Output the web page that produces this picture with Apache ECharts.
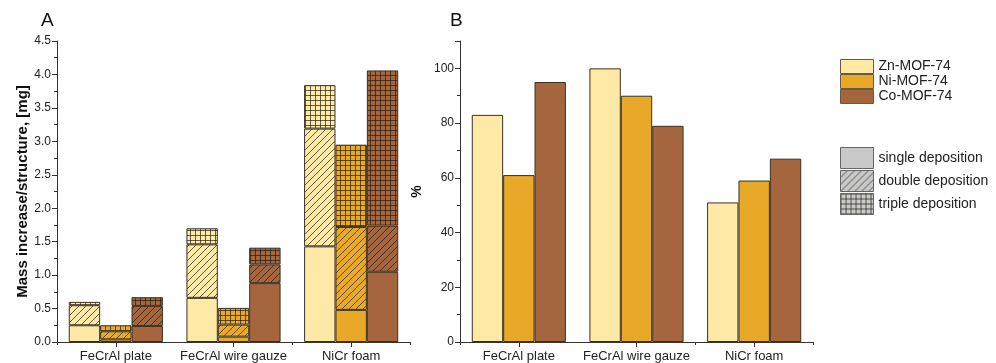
<!DOCTYPE html>
<html>
<head>
<meta charset="utf-8">
<script src="https://cdn.jsdelivr.net/npm/echarts@6/dist/echarts.min.js"></script>
<style>
  html, body { margin: 0; padding: 0; background: #fff; }
  #chart { width: 996px; height: 363px; }
</style>
</head>
<body>
<div id="chart"></div>
<script>
// categories
var categories = ["FeCrAl plate", "FeCrAl wire gauze", "NiCr foam"];
var mofNames = ["Zn-MOF-74", "Ni-MOF-74", "Co-MOF-74"];
var depNames = ["single deposition", "double deposition", "triple deposition"];

// panel A: mass added by each deposition step [mg]
var znSingle = [0.25, 0.66, 1.43];
var znDouble = [0.30, 0.80, 1.76];
var znTriple = [0.05, 0.24, 0.65];
var niSingle = [0.04, 0.08, 0.48];
var niDouble = [0.12, 0.18, 1.24];
var niTriple = [0.09, 0.25, 1.23];
var coSingle = [0.24, 0.88, 1.05];
var coDouble = [0.30, 0.28, 0.69];
var coTriple = [0.13, 0.25, 2.32];

// panel B: %
var znPct = [83, 100, 51];
var niPct = [61, 90, 59];
var coPct = [95, 79, 67];

var colors = { Zn: "#fee9a6", Ni: "#e8a828", Co: "#a5663d", Gray: "#c9c9c9" };
var edge = "#3a3020";

function pattern(fill, kind) {
  var c = document.createElement("canvas");
  var s = kind === "double" ? 7 : 5;
  c.width = s; c.height = s;
  var g = c.getContext("2d");
  g.fillStyle = fill;
  g.fillRect(0, 0, s, s);
  g.strokeStyle = "rgba(30,25,15,0.85)";
  g.lineWidth = 0.8;
  g.beginPath();
  if (kind === "double") {
    g.moveTo(-1, s + 1); g.lineTo(s + 1, -1);
    g.moveTo(-1, 1); g.lineTo(1, -1);
    g.moveTo(s - 1, s + 1); g.lineTo(s + 1, s - 1);
  } else {
    g.moveTo(0.5, 0); g.lineTo(0.5, s);
    g.moveTo(0, 0.5); g.lineTo(s, 0.5);
  }
  g.stroke();
  return { image: c, repeat: "repeat" };
}

function fillOf(mof, kind) {
  return kind === "single" ? colors[mof] : pattern(colors[mof], kind);
}

var layersA = [
  ["Zn", "single", znSingle], ["Ni", "single", niSingle], ["Co", "single", coSingle],
  ["Zn", "double", znDouble], ["Ni", "double", niDouble], ["Co", "double", coDouble],
  ["Zn", "triple", znTriple], ["Ni", "triple", niTriple], ["Co", "triple", coTriple]
];

var font = "Liberation Sans, Arial, sans-serif";

function xAxes(grid) {
  return [
    {
      type: "category", gridIndex: grid, data: categories,
      axisLine: { lineStyle: { color: "#333", width: 1 } },
      axisTick: { show: true, alignWithLabel: true, length: 5, lineStyle: { color: "#333" } },
      axisLabel: { color: "#222", fontSize: 13, fontFamily: font, margin: 8, interval: 0 }
    },
    {
      type: "category", gridIndex: grid, data: categories, position: "bottom",
      axisLine: { show: false },
      axisTick: { show: true, length: 3, lineStyle: { color: "#333" } },
      axisLabel: { show: false }
    }
  ];
}

var series = [];
layersA.forEach(function (l) {
  series.push({
    name: l[0] + " " + l[1],
    type: "bar", stack: l[0], xAxisIndex: 0, yAxisIndex: 0,
    barGap: "0%", barCategoryGap: "20%",
    itemStyle: { color: fillOf(l[0], l[1]), borderColor: edge, borderWidth: 1 },
    data: l[2]
  });
});
[["Zn", znPct], ["Ni", niPct], ["Co", coPct]].forEach(function (p, i) {
  series.push({
    name: mofNames[i],
    type: "bar", xAxisIndex: 2, yAxisIndex: 1,
    barGap: "0%", barCategoryGap: "20%",
    itemStyle: { color: colors[p[0]], borderColor: edge, borderWidth: 1 },
    data: p[1]
  });
});
// legend-only entries for the deposition patterns (on a hidden grid)
["single", "double", "triple"].forEach(function (k, i) {
  series.push({
    name: depNames[i], type: "bar", xAxisIndex: 4, yAxisIndex: 2,
    itemStyle: { color: fillOf("Gray", k), borderColor: "#666", borderWidth: 1 },
    data: []
  });
});

var chart = echarts.init(document.getElementById("chart"));
chart.setOption({
  backgroundColor: "#fff",
  animation: false,
  title: [
    { text: "A", left: 36, top: 6, textStyle: { fontSize: 19, fontWeight: "normal", color: "#111", fontFamily: font } },
    { text: "B", left: 445, top: 6, textStyle: { fontSize: 19, fontWeight: "normal", color: "#111", fontFamily: font } }
  ],
  legend: [
    {
      data: mofNames, orient: "vertical", left: 835, top: 54,
      itemWidth: 33, itemHeight: 14, itemGap: 0, icon: "rect",
      itemStyle: { borderWidth: 1, borderColor: "#6a5a45" },
      textStyle: { fontSize: 14, color: "#222", fontFamily: font },
      selectedMode: false
    },
    {
      data: depNames, orient: "vertical", left: 835, top: 142,
      itemWidth: 33, itemHeight: 21, itemGap: 1, icon: "rect",
      itemStyle: { borderWidth: 1, borderColor: "#666" },
      textStyle: { fontSize: 14, color: "#222", fontFamily: font },
      selectedMode: false
    }
  ],
  grid: [
    { left: 57, top: 41, width: 353, height: 301 },
    { left: 460, top: 41, width: 353, height: 301 },
    { left: 0, top: 0, width: 1, height: 1, show: false }
  ],
  xAxis: xAxes(0).concat(xAxes(1)).concat([
    { type: "category", gridIndex: 2, show: false, data: categories }
  ]),
  yAxis: [
    {
      type: "value", gridIndex: 0, min: 0, max: 4.5, interval: 0.5,
      name: "Mass increase/structure, [mg]", nameLocation: "middle", nameGap: 25,
      nameTextStyle: { fontSize: 15, fontWeight: "bold", color: "#111", fontFamily: font },
      axisLine: { show: true, lineStyle: { color: "#333" } },
      axisTick: { show: true, length: 5, lineStyle: { color: "#333" } },
      minorTick: { show: true, splitNumber: 2, length: 3, lineStyle: { color: "#333" } },
      splitLine: { show: false },
      axisLabel: { fontSize: 12, color: "#222", fontFamily: font, margin: 6,
        formatter: function (v) { return v.toFixed(1); } }
    },
    {
      type: "value", gridIndex: 1, min: 0, max: 110, interval: 20,
      name: "%", nameLocation: "middle", nameGap: 36,
      nameTextStyle: { fontSize: 14, fontWeight: "bold", color: "#111", fontFamily: font },
      axisLine: { show: true, lineStyle: { color: "#333" } },
      axisTick: { show: true, length: 5, lineStyle: { color: "#333" } },
      minorTick: { show: true, splitNumber: 2, length: 3, lineStyle: { color: "#333" } },
      splitLine: { show: false },
      axisLabel: { fontSize: 12, color: "#222", fontFamily: font, margin: 6, showMaxLabel: false }
    },
    { type: "value", gridIndex: 2, show: false }
  ],
  series: series
});
</script>
</body>
</html>
